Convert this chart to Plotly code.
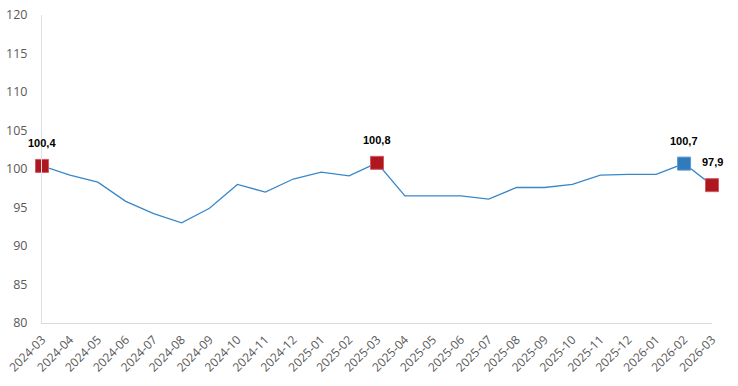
import plotly.graph_objects as go

months = ["2024-03","2024-04","2024-05","2024-06","2024-07","2024-08","2024-09","2024-10",
          "2024-11","2024-12","2025-01","2025-02","2025-03","2025-04","2025-05","2025-06",
          "2025-07","2025-08","2025-09","2025-10","2025-11","2025-12","2026-01","2026-02","2026-03"]
values = [100.4, 99.2, 98.3, 95.8, 94.2, 93.0, 94.9, 98.0, 97.0, 98.7, 99.6, 99.1, 100.8,
          96.5, 96.5, 96.5, 96.1, 97.6, 97.6, 98.0, 99.2, 99.3, 99.3, 100.7, 97.9]
red_months = ["2024-03", "2025-03", "2026-03"]
blue_months = ["2026-02"]
y_ticks = [80, 85, 90, 95, 100, 105, 110, 115, 120]

LINE = "#3a87c8"
RED = "#ae1620"
BLUE = "#2f7bbb"

val = dict(zip(months, values))

fig = go.Figure()
fig.add_trace(go.Scatter(x=months, y=values, mode="lines", cliponaxis=False,
                         line=dict(color=LINE, width=1.3), hoverinfo="x+y"))
fig.add_trace(go.Scatter(x=red_months, y=[val[m] for m in red_months], mode="markers",
                         cliponaxis=False,
                         marker=dict(symbol="square", size=13, color=RED,
                                     line=dict(color="#d05a60", width=1))))
fig.add_trace(go.Scatter(x=blue_months, y=[val[m] for m in blue_months], mode="markers",
                         cliponaxis=False,
                         marker=dict(symbol="square", size=13, color=BLUE,
                                     line=dict(color="#5b9bd0", width=1))))

for m in red_months + blue_months:
    fig.add_annotation(x=m, y=val[m], text="<b>" + f"{val[m]:.1f}".replace(".", ",") + "</b>",
                       showarrow=False, yshift=23,
                       font=dict(family="Liberation Sans, Arial", size=11, color="#000"))

fig.update_layout(
    width=738, height=386,
    margin=dict(l=42, r=26, t=15, b=63),
    paper_bgcolor="white", plot_bgcolor="white",
    showlegend=False,
    font=dict(family="Open Sans, Noto Sans", size=12, color="#595959"),
)
fig.update_xaxes(type="category", range=[0, 24], showgrid=False, showline=True,
                 linecolor="#d9d9d9", linewidth=1, tickangle=-45, ticks="",
                 ticklabelstandoff=4,
                 automargin=False, tickfont=dict(size=12, color="#595959"))
fig.update_yaxes(range=[80, 120], tickvals=y_ticks, showgrid=False, zeroline=False,
                 showline=True, linecolor="#dde0ea", linewidth=1, ticks="",
                 ticklabelstandoff=11,
                 automargin=False, tickfont=dict(size=12.5, color="#595959"))

fig.write_html("out.html", config={"displayModeBar": False},
               post_script="document.body.style.margin='0';")
